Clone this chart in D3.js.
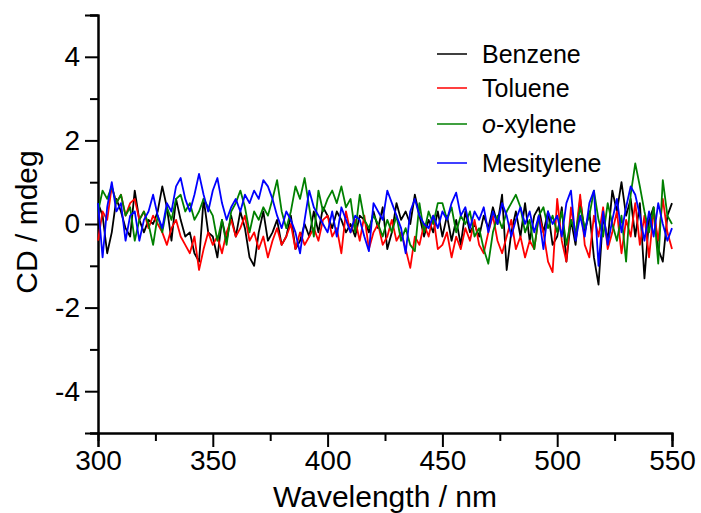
<!DOCTYPE html>
<html>
<head>
<meta charset="utf-8">
<script src="https://cdn.jsdelivr.net/npm/d3@7"></script>
<style>
  body { margin: 0; background: #fff; }
  text { font-family: "Liberation Sans", Arial, sans-serif; fill: #000; }
</style>
</head>
<body>
<svg id="chart" width="701" height="513"></svg>
<script>
// wavelength grid, 2 nm steps
const wavelengths = d3.range(300, 551, 2)

const benzene = [
  0.5, 0.2, -0.7, -0.2, 0.6, 0.3, -0.1, -0.3, 0.8, 0.1, -0.2, 0.1, 0.0, 0.3, 0.9, 0.4, -0.4, 0.6, 0.1, -0.3, -0.2, -0.7, -0.9, 0.6, -0.2,
  -0.3, -0.8, 0.1, -0.4, 0.2, -0.3, 0.3, -0.1, -0.8, -1.0, -0.2, 0.3, -0.4, -0.2, 0.1, -0.5, -0.3, 0.2, -0.6, -0.4, 0.0, -0.3, 0.3, -0.2, 0.4,
  0.2, -0.1, 0.3, 0.1, -0.2, 0.0, -0.3, 0.2, 0.1, -0.2, 0.3, -0.1, 0.4, -0.6, -0.2, 0.5, 0.1, 0.3, 0.0, 0.7, 0.2, -0.3, 0.1, -0.2, 0.3,
  -0.3, 0.2, -0.4, 0.1, -0.5, 0.3, -0.2, 0.0, -0.3, 0.2, -0.1, 0.4, 0.0, 0.7, -1.1, -0.2, 0.3, -0.3, 0.5, -0.4, 0.2, 0.4, -0.2, 0.3, -0.5,
  -0.3, 0.4, -0.9, 0.1, -0.5, 0.6, -0.2, 0.3, -0.8, -1.45, 0.2, -0.4, 0.8, 0.3, 1.0, 0.2, 0.6, -0.3, 0.5, -1.3, 0.1, 0.4, -0.6, -0.9, 0.2, 0.5
]
const toluene = [
  -0.4, 0.3, 0.1, 0.9, 0.5, 0.7, 0.2, 0.5, 0.6, 0.1, 0.3, -0.1, 0.2, 0.0, -0.2, -0.5, -0.1, 0.1, -0.3, -0.5, -0.7, -0.3, -1.1, -0.6, -0.2,
  -0.5, -0.3, -0.7, -0.2, 0.1, -0.3, -0.1, 0.2, -0.4, -0.2, -0.6, -0.3, -0.8, -0.4, -0.1, -0.5, -0.3, 0.0, -0.6, -0.2, -0.5, -0.3, -0.1, -0.4, 0.1,
  0.2, -0.3, -0.1, -0.7, 0.3, -0.2, 0.1, -0.4, 0.2, -0.6, -0.2, 0.0, -0.5, -0.3, 0.1, -0.4, -0.2, -0.6, -1.05, -0.3, -0.5, 0.0, -0.3, 0.2, -0.6,
  -0.5, -0.2, -0.8, -0.3, -0.6, -0.1, -0.4, 0.1, -0.5, -0.7, -0.2, 0.2, -0.4, -0.7, -0.3, 0.1, -0.6, -0.3, -0.8, -0.4, -0.6, 0.2, -0.2, -0.9, -1.15,
  0.6, -0.4, -0.9, 0.4, -0.3, 0.7, -0.5, -0.8, 0.2, -0.3, 0.4, -0.6, -0.2, 0.3, -0.7, 0.1, -0.3, 0.5, -0.5, 0.2, -0.8, 0.3, -0.4, 0.6, -0.2, -0.6
]
const oXylene = [
  0.3, 0.8, 0.6, 0.9, 0.5, 0.7, 0.2, 0.4, -0.4, 0.1, 0.3, 0.0, -0.5, 0.2, -0.2, 0.4, 0.1, 0.6, 0.7, 0.3, 0.5, 0.1, 0.3, 0.6, 0.4,
  0.2, -0.4, 0.1, -0.5, 0.3, 0.5, 0.8, 0.4, -0.2, 0.3, 0.1, 0.4, 0.2, 0.6, 1.05, 0.3, -0.1, 0.3, 0.9, 0.6, 1.1, 0.4, -0.3, 0.8, 0.3,
  0.6, 0.8, 0.5, 0.9, 0.4, 0.6, -0.2, 0.7, 0.1, -0.1, 0.2, 0.0, -0.3, 0.1, -0.2, 0.2, -0.4, -0.1, -0.5, -0.65, 0.5, -0.2, 0.3, 0.0, 0.5,
  0.5, 0.1, 0.4, -0.2, 0.2, 0.0, 0.3, -0.3, -0.1, -0.6, -0.95, -0.2, 0.2, -0.1, 0.3, 0.5, 0.7, 0.4, -0.2, 0.1, -0.6, 0.2, 0.4, -0.1, 0.2,
  -0.2, 0.3, -0.5, 0.1, -0.2, 0.4, -0.1, 0.2, 0.8, 0.1, -0.3, 0.5, 0.0, -0.4, 0.2, -0.9, 0.7, 1.45, 0.9, 0.3, -0.2, 0.4, -0.95, 1.05, 0.2, 0.0
]
const mesitylene = [
  0.5, -0.8, 0.4, 1.0, 0.3, 0.5, -0.4, 0.2, 0.3, -0.4, 0.1, 0.3, 0.7, 0.2, -0.1, 0.5, 0.3, 0.9, 1.1, 0.6, 0.3, 0.7, 1.2, 0.7, 0.3,
  0.8, 1.1, 0.5, 0.1, 0.4, 0.6, 0.3, 0.7, 0.5, 0.8, 0.6, 1.05, 0.9, 0.6, 0.2, -0.1, 0.3, 0.1, -0.2, -0.7, 0.1, 0.8, 0.4, 0.2, 0.0,
  -0.2, 0.3, -0.3, 0.4, 0.1, -0.2, 0.2, 0.1, -0.3, -0.65, 0.5, 0.3, 0.1, 0.8, 0.5, 0.2, -0.1, -0.7, 0.3, 0.6, 0.2, 0.0, -0.1, 0.2, -0.1,
  0.3, 0.1, 0.5, 0.75, 0.2, 0.4, -0.1, 0.3, 0.1, 0.4, -0.2, 0.3, 0.0, 0.5, 0.2, -0.3, 0.1, 0.4, 0.0, 0.3, -0.2, 0.2, -0.6, 0.3, 0.0,
  0.2, -0.3, 0.5, 0.8, -0.4, 0.2, -0.3, 0.5, 0.8, -1.0, 0.3, -0.5, 0.1, 0.6, -0.2, 0.4, 0.9, 0.7, 0.2, -0.4, 0.3, -0.3, 0.5, 0.0, -0.4, -0.1
]

const seriesNames = ["Benzene", "Toluene", "o-xylene", "Mesitylene"]
const seriesValues = [benzene, toluene, oXylene, mesitylene]
const colors = ["#000000", "#ff0000", "#008000", "#0000ff"]

const xTicks = [300, 350, 400, 450, 500, 550]
const xMinor = [325, 375, 425, 475, 525]
const yTicks = [-4, -2, 0, 2, 4]
const yMinor = [-5, -3, -1, 1, 3, 5]

const svg = d3.select("#chart")
const x = d3.scaleLinear().domain([300, 550]).range([98, 672])
const y = d3.scaleLinear().domain([-5, 5]).range([433, 15])

// axes
svg.append("g").attr("transform", "translate(0,433)")
  .call(d3.axisBottom(x).tickValues(xTicks).tickSize(14).tickPadding(3))
svg.append("g").attr("transform", "translate(0,433)")
  .call(d3.axisBottom(x).tickValues(xMinor).tickSize(8).tickFormat(""))
svg.append("g").attr("transform", "translate(98,0)")
  .call(d3.axisLeft(y).tickValues(yTicks).tickSize(13).tickPadding(5).tickFormat(d => String(d)))
svg.append("g").attr("transform", "translate(98,0)")
  .call(d3.axisLeft(y).tickValues(yMinor).tickSize(8).tickFormat(""))

svg.selectAll(".domain").attr("stroke", "#000").attr("stroke-width", 2)
svg.selectAll(".tick line").attr("stroke", "#000").attr("stroke-width", 2)
svg.selectAll(".tick text").style("font-size", "28px")
  .style("font-family", "'Liberation Sans', Arial, sans-serif").attr("fill", "#000")

// data lines
const line = d3.line().x((d, i) => x(wavelengths[i])).y(d => y(d))
seriesValues.forEach((vals, k) => {
  svg.append("path").datum(vals)
    .attr("fill", "none").attr("stroke", colors[k]).attr("stroke-width", 1.8)
    .attr("stroke-linejoin", "round")
    .attr("d", line)
})

// titles
svg.append("text").attr("x", 385).attr("y", 507).attr("text-anchor", "middle")
  .style("font-size", "30px").text("Wavelength / nm")
svg.append("text").attr("transform", "translate(37,222) rotate(-90)")
  .attr("text-anchor", "middle").style("font-size", "30px").text("CD / mdeg")

// legend
const legendY = [54, 88, 124, 163]
const lg = svg.append("g")
seriesNames.forEach((name, k) => {
  lg.append("line").attr("x1", 437).attr("x2", 467)
    .attr("y1", legendY[k]).attr("y2", legendY[k])
    .attr("stroke", colors[k]).attr("stroke-width", 1.5)
  const t = lg.append("text").attr("x", 482).attr("y", legendY[k] + 9)
    .style("font-size", "25px")
  if (name === "o-xylene") {
    t.append("tspan").style("font-style", "italic").text("o")
    t.append("tspan").text("-xylene")
  } else {
    t.text(name)
  }
})
</script>
</body>
</html>
